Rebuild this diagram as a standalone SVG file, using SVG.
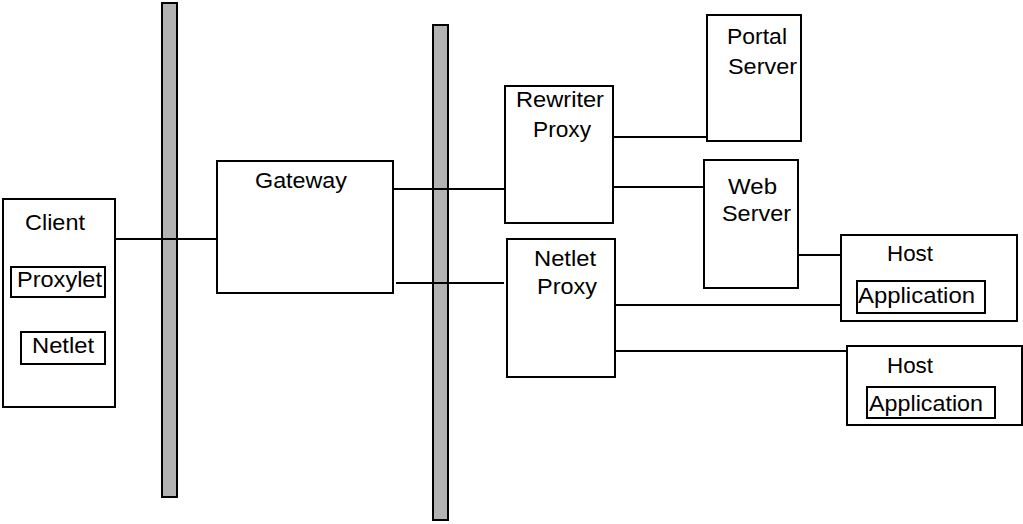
<svg xmlns="http://www.w3.org/2000/svg" width="1023" height="524" viewBox="0 0 1023 524">
<style>
.box{fill:#fff;stroke:#000;stroke-width:2}
.bar{fill:#b3b3b3;stroke:#000;stroke-width:2}
.ln{stroke:#000;stroke-width:2;fill:none}
text{font-family:"Liberation Sans",Arial,sans-serif;font-size:22.5px;fill:#000}
</style>
<rect width="1023" height="524" fill="#fff"/>
<g id="firewall1"><rect class="bar" x="162" y="3" width="15" height="494"/></g>
<g id="firewall2"><rect class="bar" x="433" y="25" width="15" height="495"/></g>
<g id="connectors">
<line class="ln" x1="115" y1="239" x2="220" y2="239"/>
<line class="ln" x1="393" y1="189" x2="505" y2="189"/>
<line class="ln" x1="396" y1="283" x2="504" y2="283"/>
<line class="ln" x1="610" y1="137" x2="707" y2="137"/>
<line class="ln" x1="613" y1="187" x2="704" y2="187"/>
<line class="ln" x1="796" y1="255" x2="841" y2="255"/>
<line class="ln" x1="615" y1="305" x2="846" y2="305"/>
<line class="ln" x1="612" y1="351" x2="847" y2="351"/>
</g>
<g id="client">
<rect class="box" x="3" y="199" width="112" height="208"/>
<text x="25" y="230" textLength="60" lengthAdjust="spacingAndGlyphs">Client</text>
<rect class="box" x="11" y="267" width="94" height="30"/>
<text x="17" y="287" textLength="85" lengthAdjust="spacingAndGlyphs">Proxylet</text>
<rect class="box" x="21" y="332" width="84" height="32"/>
<text x="32" y="353" textLength="62" lengthAdjust="spacingAndGlyphs">Netlet</text>
</g>
<g id="gateway">
<rect class="box" x="217" y="161" width="176" height="132"/>
<text x="255" y="188" textLength="92" lengthAdjust="spacingAndGlyphs">Gateway</text>
</g>
<g id="rewriter-proxy">
<rect class="box" x="505" y="86" width="108" height="137"/>
<text x="516" y="107" textLength="88" lengthAdjust="spacingAndGlyphs">Rewriter</text>
<text x="533" y="137" textLength="58" lengthAdjust="spacingAndGlyphs">Proxy</text>
</g>
<g id="netlet-proxy">
<rect class="box" x="507" y="239" width="108" height="138"/>
<text x="534" y="266" textLength="62" lengthAdjust="spacingAndGlyphs">Netlet</text>
<text x="537" y="294" textLength="60" lengthAdjust="spacingAndGlyphs">Proxy</text>
</g>
<g id="portal-server">
<rect class="box" x="707" y="15" width="94" height="126"/>
<text x="727" y="44" textLength="60" lengthAdjust="spacingAndGlyphs">Portal</text>
<text x="728" y="74" textLength="69" lengthAdjust="spacingAndGlyphs">Server</text>
</g>
<g id="web-server">
<rect class="box" x="704" y="160" width="94" height="128"/>
<text x="728" y="194" textLength="49" lengthAdjust="spacingAndGlyphs">Web</text>
<text x="722" y="221" textLength="69" lengthAdjust="spacingAndGlyphs">Server</text>
</g>
<g id="host1">
<rect class="box" x="841" y="235" width="176" height="86"/>
<text x="887" y="261" textLength="46" lengthAdjust="spacingAndGlyphs">Host</text>
<rect class="box" x="857" y="281" width="128" height="32"/>
<text x="858" y="303" textLength="117" lengthAdjust="spacingAndGlyphs">Application</text>
</g>
<g id="host2">
<rect class="box" x="847" y="346" width="175" height="79"/>
<text x="887" y="373" textLength="46" lengthAdjust="spacingAndGlyphs">Host</text>
<rect class="box" x="867" y="387" width="128" height="31"/>
<text x="869" y="411" textLength="114" lengthAdjust="spacingAndGlyphs">Application</text>
</g>
</svg>
